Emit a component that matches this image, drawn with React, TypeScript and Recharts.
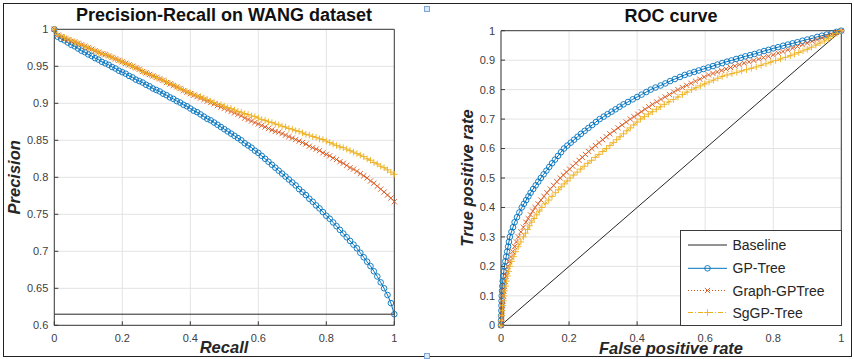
import React from 'react';
import { LineChart, Line, XAxis, YAxis, CartesianGrid, ReferenceLine } from 'recharts';

// ---------- DATA ----------
const recall = [
  0, 0.01, 0.02, 0.03, 0.04, 0.05, 0.06, 0.07, 0.08, 0.09,
  0.1, 0.11, 0.12, 0.13, 0.14, 0.15, 0.16, 0.17, 0.18, 0.19,
  0.2, 0.21, 0.22, 0.23, 0.24, 0.25, 0.26, 0.27, 0.28, 0.29,
  0.3, 0.31, 0.32, 0.33, 0.34, 0.35, 0.36, 0.37, 0.38, 0.39,
  0.4, 0.41, 0.42, 0.43, 0.44, 0.45, 0.46, 0.47, 0.48, 0.49,
  0.5, 0.51, 0.52, 0.53, 0.54, 0.55, 0.56, 0.57, 0.58, 0.59,
  0.6, 0.61, 0.62, 0.63, 0.64, 0.65, 0.66, 0.67, 0.68, 0.69,
  0.7, 0.71, 0.72, 0.73, 0.74, 0.75, 0.76, 0.77, 0.78, 0.79,
  0.8, 0.81, 0.82, 0.83, 0.84, 0.85, 0.86, 0.87, 0.88, 0.89,
  0.9, 0.91, 0.92, 0.93, 0.94, 0.95, 0.96, 0.97, 0.98, 0.99,
  1,
];

const prGpTree = [
  1.0, 0.99, 0.987, 0.985, 0.982, 0.979, 0.977, 0.974, 0.971, 0.969,
  0.966, 0.964, 0.961, 0.959, 0.956, 0.954, 0.952, 0.949, 0.947, 0.944,
  0.942, 0.94, 0.937, 0.935, 0.932, 0.93, 0.928, 0.925, 0.923, 0.92,
  0.918, 0.916, 0.913, 0.911, 0.908, 0.906, 0.903, 0.901, 0.898, 0.896,
  0.893, 0.89, 0.888, 0.885, 0.882, 0.879, 0.877, 0.874, 0.871, 0.868,
  0.865, 0.862, 0.859, 0.856, 0.853, 0.85, 0.846, 0.843, 0.84, 0.836,
  0.833, 0.829, 0.825, 0.821, 0.817, 0.813, 0.809, 0.805, 0.801, 0.797,
  0.793, 0.789, 0.784, 0.78, 0.776, 0.771, 0.767, 0.762, 0.758, 0.753,
  0.748, 0.744, 0.739, 0.734, 0.729, 0.724, 0.719, 0.714, 0.709, 0.704,
  0.698, 0.692, 0.686, 0.68, 0.673, 0.666, 0.658, 0.65, 0.641, 0.63,
  0.615,
];

const prGraphGpTree = [
  1.0, 0.992, 0.99, 0.988, 0.986, 0.984, 0.983, 0.981, 0.979, 0.977,
  0.975, 0.973, 0.971, 0.969, 0.967, 0.966, 0.964, 0.962, 0.96, 0.958,
  0.956, 0.954, 0.952, 0.95, 0.948, 0.946, 0.943, 0.941, 0.939, 0.937,
  0.935, 0.933, 0.931, 0.928, 0.926, 0.924, 0.922, 0.92, 0.917, 0.915,
  0.913, 0.911, 0.909, 0.907, 0.905, 0.903, 0.901, 0.899, 0.897, 0.895,
  0.893, 0.891, 0.889, 0.887, 0.885, 0.883, 0.88, 0.878, 0.876, 0.874,
  0.872, 0.87, 0.868, 0.866, 0.864, 0.862, 0.861, 0.859, 0.857, 0.855,
  0.853, 0.851, 0.849, 0.847, 0.845, 0.842, 0.84, 0.838, 0.836, 0.833,
  0.831, 0.829, 0.826, 0.824, 0.821, 0.819, 0.816, 0.813, 0.811, 0.808,
  0.805, 0.802, 0.799, 0.795, 0.792, 0.788, 0.784, 0.78, 0.776, 0.772,
  0.767,
];

const prSgGpTree = [
  1.0, 0.993, 0.991, 0.989, 0.987, 0.985, 0.983, 0.981, 0.979, 0.977,
  0.975, 0.973, 0.971, 0.969, 0.967, 0.966, 0.964, 0.962, 0.96, 0.958,
  0.956, 0.954, 0.952, 0.95, 0.948, 0.946, 0.943, 0.941, 0.939, 0.937,
  0.935, 0.933, 0.931, 0.929, 0.927, 0.925, 0.922, 0.92, 0.918, 0.916,
  0.914, 0.912, 0.91, 0.909, 0.907, 0.905, 0.903, 0.901, 0.899, 0.898,
  0.896, 0.894, 0.893, 0.891, 0.889, 0.888, 0.886, 0.885, 0.883, 0.882,
  0.88, 0.878, 0.877, 0.875, 0.874, 0.872, 0.871, 0.869, 0.868, 0.866,
  0.865, 0.863, 0.862, 0.86, 0.858, 0.857, 0.855, 0.854, 0.852, 0.851,
  0.849, 0.847, 0.845, 0.843, 0.841, 0.84, 0.838, 0.836, 0.834, 0.832,
  0.83, 0.828, 0.825, 0.823, 0.82, 0.818, 0.815, 0.813, 0.81, 0.807,
  0.804,
];

const prBaseline = 0.615;

// ROC points: [false positive rate, true positive rate]
const rocBaseline: [number, number][] = [[0, 0], [1, 1]];

const rocGpTree: [number, number][] = [
  [0, 0], [0.0003, 0.017], [0.0007, 0.033], [0.001, 0.05], [0.0013, 0.067], [0.0017, 0.083],
  [0.002, 0.1], [0.003, 0.117], [0.004, 0.133], [0.005, 0.15], [0.0067, 0.167], [0.0083, 0.183],
  [0.01, 0.2], [0.0127, 0.217], [0.0153, 0.233], [0.018, 0.25], [0.0207, 0.267], [0.0233, 0.283],
  [0.026, 0.3], [0.0307, 0.317], [0.0353, 0.333], [0.04, 0.35], [0.047, 0.367], [0.054, 0.383],
  [0.061, 0.4], [0.0675, 0.4125], [0.074, 0.425], [0.0805, 0.4375], [0.087, 0.45], [0.0945, 0.4625],
  [0.102, 0.475], [0.1095, 0.4875], [0.117, 0.5], [0.1253, 0.5125], [0.1335, 0.525], [0.1418, 0.5375],
  [0.15, 0.55], [0.1588, 0.5625], [0.1675, 0.575], [0.1763, 0.5875], [0.185, 0.6], [0.195, 0.61],
  [0.205, 0.62], [0.215, 0.63], [0.225, 0.64], [0.235, 0.65], [0.246, 0.66], [0.257, 0.67],
  [0.268, 0.68], [0.279, 0.69], [0.29, 0.7], [0.3017, 0.7083], [0.3133, 0.7167], [0.325, 0.725],
  [0.3367, 0.7333], [0.3483, 0.7417], [0.36, 0.75], [0.373, 0.758], [0.387, 0.767], [0.4, 0.775],
  [0.413, 0.783], [0.427, 0.792], [0.44, 0.8], [0.454, 0.807], [0.469, 0.814], [0.483, 0.821],
  [0.497, 0.829], [0.511, 0.836], [0.526, 0.843], [0.54, 0.85], [0.554, 0.855], [0.568, 0.86],
  [0.581, 0.865], [0.595, 0.87], [0.609, 0.875], [0.623, 0.88], [0.636, 0.885], [0.65, 0.89],
  [0.664, 0.895], [0.677, 0.899], [0.691, 0.904], [0.705, 0.908], [0.718, 0.913], [0.732, 0.917],
  [0.745, 0.921], [0.759, 0.926], [0.773, 0.931], [0.786, 0.935], [0.8, 0.94], [0.814, 0.944],
  [0.829, 0.949], [0.843, 0.953], [0.857, 0.957], [0.871, 0.961], [0.886, 0.966], [0.9, 0.97],
  [0.914, 0.974], [0.929, 0.979], [0.943, 0.983], [0.957, 0.987], [0.971, 0.991], [0.986, 0.996],
  [1, 1],
];

const rocGraphGpTree: [number, number][] = [
  [0, 0], [0.001, 0.017], [0.002, 0.033], [0.003, 0.05], [0.0043, 0.067], [0.0057, 0.083],
  [0.007, 0.1], [0.0087, 0.117], [0.0103, 0.133], [0.012, 0.15], [0.0147, 0.167], [0.0173, 0.183],
  [0.02, 0.2], [0.0247, 0.217], [0.0293, 0.233], [0.034, 0.25], [0.0397, 0.267], [0.0453, 0.283],
  [0.051, 0.3], [0.0583, 0.317], [0.0657, 0.333], [0.073, 0.35], [0.0798, 0.3625], [0.0865, 0.375],
  [0.0933, 0.3875], [0.1, 0.4], [0.1088, 0.4125], [0.1175, 0.425], [0.1263, 0.4375], [0.135, 0.45],
  [0.1448, 0.4625], [0.1545, 0.475], [0.1643, 0.4875], [0.174, 0.5], [0.1832, 0.51], [0.1924, 0.52],
  [0.2016, 0.53], [0.2108, 0.54], [0.22, 0.55], [0.2294, 0.56], [0.2388, 0.57], [0.2482, 0.58],
  [0.2576, 0.59], [0.267, 0.6], [0.2776, 0.61], [0.2882, 0.62], [0.2988, 0.63], [0.3094, 0.64],
  [0.32, 0.65], [0.332, 0.66], [0.344, 0.67], [0.356, 0.68], [0.368, 0.69], [0.38, 0.7],
  [0.3908, 0.7083], [0.4017, 0.7167], [0.4125, 0.725], [0.4233, 0.7333], [0.4342, 0.7417], [0.445, 0.75],
  [0.4575, 0.7583], [0.47, 0.7667], [0.4825, 0.775], [0.495, 0.7833], [0.5075, 0.7917], [0.52, 0.8],
  [0.5329, 0.8071], [0.5457, 0.8143], [0.5586, 0.8214], [0.5714, 0.8286], [0.5843, 0.8357], [0.5971, 0.8429],
  [0.61, 0.85], [0.6229, 0.855], [0.6357, 0.86], [0.6486, 0.865], [0.6614, 0.87], [0.6743, 0.875],
  [0.6871, 0.88], [0.7, 0.885], [0.7143, 0.8897], [0.7286, 0.8944], [0.7429, 0.8991], [0.7571, 0.9039],
  [0.7714, 0.9086], [0.7857, 0.9133], [0.8, 0.918], [0.8143, 0.9237], [0.8286, 0.9294], [0.8429, 0.9351],
  [0.8571, 0.9409], [0.8714, 0.9466], [0.8857, 0.9523], [0.9, 0.958], [0.9143, 0.964], [0.9286, 0.97],
  [0.9429, 0.976], [0.9571, 0.982], [0.9714, 0.988], [0.9857, 0.994], [1, 1],
];

const rocSgGpTree: [number, number][] = [
  [0, 0], [0.0013, 0.017], [0.0027, 0.033], [0.004, 0.05], [0.0057, 0.067], [0.0073, 0.083],
  [0.009, 0.1], [0.0113, 0.117], [0.0137, 0.133], [0.016, 0.15], [0.0193, 0.167], [0.0227, 0.183],
  [0.026, 0.2], [0.0317, 0.217], [0.0373, 0.233], [0.043, 0.25], [0.0507, 0.267], [0.0583, 0.283],
  [0.066, 0.3], [0.072, 0.3125], [0.078, 0.325], [0.084, 0.3375], [0.09, 0.35], [0.0975, 0.3625],
  [0.105, 0.375], [0.1125, 0.3875], [0.12, 0.4], [0.13, 0.4125], [0.14, 0.425], [0.15, 0.4375],
  [0.16, 0.45], [0.1686, 0.46], [0.1772, 0.47], [0.1858, 0.48], [0.1944, 0.49], [0.203, 0.5],
  [0.2134, 0.51], [0.2238, 0.52], [0.2342, 0.53], [0.2446, 0.54], [0.255, 0.55], [0.266, 0.56],
  [0.277, 0.57], [0.288, 0.58], [0.299, 0.59], [0.31, 0.6], [0.32, 0.61], [0.33, 0.62],
  [0.34, 0.63], [0.35, 0.64], [0.36, 0.65], [0.37, 0.66], [0.38, 0.67], [0.39, 0.68],
  [0.4, 0.69], [0.41, 0.7], [0.4217, 0.7083], [0.4333, 0.7167], [0.445, 0.725], [0.4567, 0.7333],
  [0.4683, 0.7417], [0.48, 0.75], [0.4933, 0.7583], [0.5067, 0.7667], [0.52, 0.775], [0.5333, 0.7833],
  [0.5467, 0.7917], [0.56, 0.8], [0.5729, 0.8064], [0.5857, 0.8129], [0.5986, 0.8193], [0.6114, 0.8257],
  [0.6243, 0.8321], [0.6371, 0.8386], [0.65, 0.845], [0.6643, 0.8496], [0.6786, 0.8541], [0.6929, 0.8587],
  [0.7071, 0.8633], [0.7214, 0.8679], [0.7357, 0.8724], [0.75, 0.877], [0.7643, 0.8824], [0.7786, 0.8879],
  [0.7929, 0.8933], [0.8071, 0.8987], [0.8214, 0.9041], [0.8357, 0.9096], [0.85, 0.915], [0.8625, 0.9205],
  [0.875, 0.926], [0.8875, 0.9315], [0.9, 0.937], [0.9125, 0.944], [0.925, 0.951], [0.9375, 0.958],
  [0.95, 0.965], [0.9625, 0.974], [0.975, 0.9825], [0.9875, 0.991], [1, 1],
];

const prXTicks = [0, 0.2, 0.4, 0.6, 0.8, 1];
const prYTicks = [0.6, 0.65, 0.7, 0.75, 0.8, 0.85, 0.9, 0.95, 1];
const rocXTicks = [0, 0.2, 0.4, 0.6, 0.8, 1];
const rocYTicks = [0, 0.1, 0.2, 0.3, 0.4, 0.5, 0.6, 0.7, 0.8, 0.9, 1];

const seriesNames = ['Baseline', 'GP-Tree', 'Graph-GPTree', 'SgGP-Tree'];
const titles = ['Precision-Recall on WANG dataset', 'ROC curve'];
const axisTitles = { prX: 'Recall', prY: 'Precision', rocX: 'False positive rate', rocY: 'True positive rate' };

// ---------- STYLE ----------
const C_BASE = '#262626';
const C_BLUE = '#0072BD';
const C_RED = '#D95319';
const C_YEL = '#EDB120';
const AXIS = '#3a3a3a';
const GRID = '#e3e3e3';
const TICK_TXT = '#404040';
const FONT = '"Liberation Sans", Arial, Helvetica, sans-serif';

const prData = recall.map((r, i) => ({
  recall: r,
  gp: prGpTree[i],
  graph: prGraphGpTree[i],
  sg: prSgGpTree[i],
}));
const toXY = (arr: [number, number][]) => arr.map(([x, y]) => ({ x, y }));
const rocBaseData = toXY(rocBaseline);
const rocGpData = toXY(rocGpTree);
const rocGraphData = toXY(rocGraphGpTree);
const rocSgData = toXY(rocSgGpTree);

const circleDot = (color: string) => (p: any) => {
  if (p.cx == null || p.cy == null) return <g key={`c${p.index}`} />;
  return <circle key={`c${p.index}`} cx={p.cx} cy={p.cy} r={2.8} fill="none" stroke={color} strokeWidth={0.9} />;
};
const crossDot = (color: string) => (p: any) => {
  if (p.cx == null || p.cy == null) return <g key={`x${p.index}`} />;
  const s = 2.6;
  const { cx, cy } = p;
  return (
    <path
      key={`x${p.index}`}
      d={`M${cx - s},${cy - s}L${cx + s},${cy + s}M${cx - s},${cy + s}L${cx + s},${cy - s}`}
      stroke={color}
      strokeWidth={0.9}
      fill="none"
    />
  );
};
const plusDot = (color: string) => (p: any) => {
  if (p.cx == null || p.cy == null) return <g key={`p${p.index}`} />;
  const s = 3.3;
  const { cx, cy } = p;
  return (
    <path
      key={`p${p.index}`}
      d={`M${cx - s},${cy}L${cx + s},${cy}M${cx},${cy - s}L${cx},${cy + s}`}
      stroke={color}
      strokeWidth={0.9}
      fill="none"
    />
  );
};

const tickStyle = { fill: TICK_TXT, fontSize: 11, fontFamily: FONT };

const frameAxes = (xTicks: number[], yTicks: number[], yDomain: [number, number]) => [
  <XAxis
    key="xt"
    xAxisId="top"
    orientation="top"
    type="number"
    domain={[0, 1]}
    ticks={xTicks}
    allowDataOverflow
    height={1}
    tick={false}
    tickSize={-4}
    stroke={AXIS}
    interval={0}
  />,
  <YAxis
    key="yr"
    yAxisId="right"
    orientation="right"
    type="number"
    domain={yDomain}
    ticks={yTicks}
    allowDataOverflow
    width={1}
    tick={false}
    tickSize={-4}
    stroke={AXIS}
    interval={0}
  />,
];

function LegendBox() {
  const x0 = 680.5;
  const y0 = 230.5;
  const w = 161;
  const h = 95;
  const rows = [245, 268.3, 290.5, 312.5];
  const lx1 = 688;
  const lx2 = 727;
  const mx = 707.5;
  return (
    <g>
      <rect x={x0} y={y0} width={w} height={h} fill="#ffffff" stroke={AXIS} strokeWidth={1} />
      <line x1={lx1} x2={lx2} y1={rows[0]} y2={rows[0]} stroke={C_BASE} strokeWidth={1} />
      <line x1={lx1} x2={lx2} y1={rows[1]} y2={rows[1]} stroke={C_BLUE} strokeWidth={1} />
      <circle cx={mx} cy={rows[1]} r={2.8} fill="none" stroke={C_BLUE} strokeWidth={0.9} />
      <line x1={lx1} x2={lx2} y1={rows[2]} y2={rows[2]} stroke={C_RED} strokeWidth={1} strokeDasharray="1 2" />
      <path
        d={`M${mx - 2.6},${rows[2] - 2.6}L${mx + 2.6},${rows[2] + 2.6}M${mx - 2.6},${rows[2] + 2.6}L${mx + 2.6},${rows[2] - 2.6}`}
        stroke={C_RED}
        strokeWidth={0.9}
      />
      <line x1={lx1} x2={lx2} y1={rows[3]} y2={rows[3]} stroke={C_YEL} strokeWidth={1} strokeDasharray="5 2 1 2" />
      <path d={`M${mx - 3.3},${rows[3]}L${mx + 3.3},${rows[3]}M${mx},${rows[3] - 3.3}L${mx},${rows[3] + 3.3}`} stroke={C_YEL} strokeWidth={0.9} />
      {seriesNames.map((n, i) => (
        <text key={n} x={732.5} y={rows[i] + 5} fontSize={14} fontFamily={FONT} fill="#262626">
          {n}
        </text>
      ))}
    </g>
  );
}

export default function App() {
  return (
    <div style={{ position: 'absolute', left: 0, top: 0, width: 854, height: 359, background: '#ffffff', overflow: 'hidden' }}>
      {/* Left: Precision-Recall */}
      <div style={{ position: 'absolute', left: 0, top: 0 }}>
        <LineChart
          width={427}
          height={359}
          data={prData}
          margin={{ top: 28.3, right: 31.7, bottom: 13.7, left: 14.3 }}
          style={{ fontFamily: FONT }}
        >
          <CartesianGrid stroke={GRID} strokeWidth={1} />
          <XAxis
            dataKey="recall"
            type="number"
            domain={[0, 1]}
            ticks={prXTicks}
            interval={0}
            height={20}
            tickSize={-4}
            tickMargin={13}
            stroke={AXIS}
            tick={tickStyle}
          />
          <YAxis
            type="number"
            domain={[0.6, 1]}
            ticks={prYTicks}
            interval={0}
            width={40}
            tickSize={-4}
            tickMargin={10}
            stroke={AXIS}
            tick={tickStyle}
          />
          {frameAxes(prXTicks, prYTicks, [0.6, 1])}
          <ReferenceLine y={prBaseline} stroke={C_BASE} strokeWidth={1} ifOverflow="extendDomain" />
          <Line
            dataKey="gp"
            name={seriesNames[1]}
            stroke={C_BLUE}
            strokeWidth={1}
            dot={circleDot(C_BLUE)}
            activeDot={false}
            isAnimationActive={false}
          />
          <Line
            dataKey="graph"
            name={seriesNames[2]}
            stroke={C_RED}
            strokeWidth={1}
            strokeDasharray="1 2"
            dot={crossDot(C_RED)}
            activeDot={false}
            isAnimationActive={false}
          />
          <Line
            dataKey="sg"
            name={seriesNames[3]}
            stroke={C_YEL}
            strokeWidth={1}
            strokeDasharray="5 2 1 2"
            dot={plusDot(C_YEL)}
            activeDot={false}
            isAnimationActive={false}
          />
        </LineChart>
      </div>

      {/* Right: ROC */}
      <div style={{ position: 'absolute', left: 427, top: 0 }}>
        <LineChart
          width={427}
          height={359}
          margin={{ top: 29.7, right: 11.7, bottom: 13.7, left: 34 }}
          style={{ fontFamily: FONT }}
        >
          <CartesianGrid stroke={GRID} strokeWidth={1} />
          <XAxis
            dataKey="x"
            type="number"
            domain={[0, 1]}
            ticks={rocXTicks}
            interval={0}
            height={20}
            tickSize={-4}
            tickMargin={13}
            stroke={AXIS}
            tick={tickStyle}
          />
          <YAxis
            type="number"
            domain={[0, 1]}
            ticks={rocYTicks}
            interval={0}
            width={40}
            tickSize={-4}
            tickMargin={10}
            stroke={AXIS}
            tick={tickStyle}
          />
          {frameAxes(rocXTicks, rocYTicks, [0, 1])}
          <Line
            data={rocBaseData}
            dataKey="y"
            name={seriesNames[0]}
            stroke={C_BASE}
            strokeWidth={1}
            dot={false}
            activeDot={false}
            isAnimationActive={false}
          />
          <Line
            data={rocGpData}
            dataKey="y"
            name={seriesNames[1]}
            stroke={C_BLUE}
            strokeWidth={1}
            dot={circleDot(C_BLUE)}
            activeDot={false}
            isAnimationActive={false}
          />
          <Line
            data={rocGraphData}
            dataKey="y"
            name={seriesNames[2]}
            stroke={C_RED}
            strokeWidth={1}
            strokeDasharray="1 2"
            dot={crossDot(C_RED)}
            activeDot={false}
            isAnimationActive={false}
          />
          <Line
            data={rocSgData}
            dataKey="y"
            name={seriesNames[3]}
            stroke={C_YEL}
            strokeWidth={1}
            strokeDasharray="5 2 1 2"
            dot={plusDot(C_YEL)}
            activeDot={false}
            isAnimationActive={false}
          />
        </LineChart>
      </div>

      {/* Overlay: titles, axis titles, legend, frame */}
      <svg width={854} height={359} style={{ position: 'absolute', left: 0, top: 0, pointerEvents: 'none' }}>
        <rect x={3.5} y={3.5} width={848} height={353} fill="none" stroke="#222" strokeWidth={1} />
        <text x={224} y={21} textAnchor="middle" fontFamily={FONT} fontWeight="bold" fontSize={18} fill="#111">
          {titles[0]}
        </text>
        <text x={671} y={21.5} textAnchor="middle" fontFamily={FONT} fontWeight="bold" fontSize={18} fill="#111">
          {titles[1]}
        </text>
        <text x={224} y={353} textAnchor="middle" fontFamily={FONT} fontWeight="bold" fontStyle="italic" fontSize={16.5} fill="#262626">
          {axisTitles.prX}
        </text>
        <text x={671} y={354} textAnchor="middle" fontFamily={FONT} fontWeight="bold" fontStyle="italic" fontSize={16.5} fill="#262626">
          {axisTitles.rocX}
        </text>
        <text
          x={20}
          y={177.3}
          textAnchor="middle"
          transform="rotate(-90 20 177.3)"
          fontFamily={FONT}
          fontWeight="bold"
          fontStyle="italic"
          fontSize={16.5}
          fill="#262626"
        >
          {axisTitles.prY}
        </text>
        <text
          x={473}
          y={178}
          textAnchor="middle"
          transform="rotate(-90 473 178)"
          fontFamily={FONT}
          fontWeight="bold"
          fontStyle="italic"
          fontSize={16.5}
          fill="#262626"
        >
          {axisTitles.rocY}
        </text>
        <LegendBox />
        <rect x={424.5} y={6.5} width={5} height={5} fill="#dbe8f6" stroke="#7aa7d8" strokeWidth={1} />
        <rect x={424.5} y={353.5} width={5} height={5} fill="#dbe8f6" stroke="#7aa7d8" strokeWidth={1} />
      </svg>
    </div>
  );
}
